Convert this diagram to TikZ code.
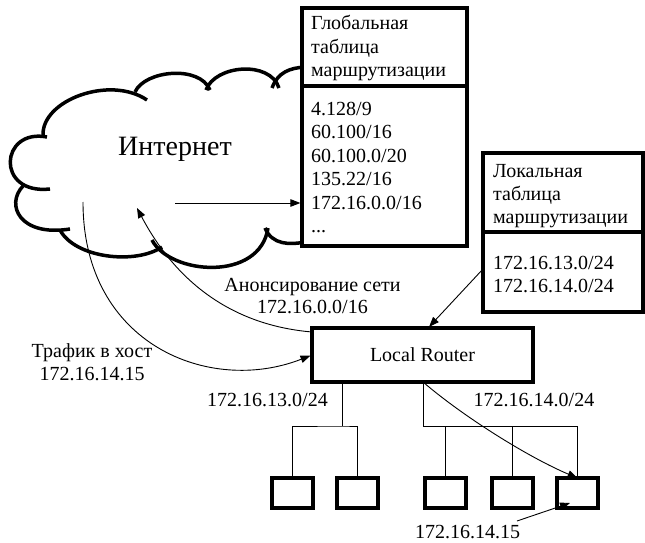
\documentclass[tikz,border=0pt]{standalone}
\usepackage{fontspec}
\setmainfont{Liberation Serif}
\usetikzlibrary{arrows.meta}
\begin{document}
\begin{tikzpicture}[x=1pt,y=-1pt,
  cloudline/.style={line width=3.5pt},
  box/.style={draw, line width=3.8pt, fill=white, inner sep=0pt, outer sep=0pt},
  txt/.style={font=\fontsize{20}{23.5}\selectfont, inner sep=0pt, anchor=base west},
  ctxt/.style={font=\fontsize{20}{23.5}\selectfont, inner sep=0pt, anchor=base},
  conn/.style={line width=0.9pt},
  arr/.style={conn, -{Triangle[length=10pt,width=7.5pt]}},
]
\useasboundingbox (0,0) rectangle (645,543);

% cloud
\draw[cloudline] (43,135) .. controls (42,100) and (110,75) .. (147,100);
\draw[cloudline] (47,137) .. controls (0,128) and (-5,195) .. (50,189);
\draw[cloudline] (23,186) .. controls (5,205) and (20,237) .. (70,229);
\draw[cloudline] (60,230) .. controls (75,258) and (135,265) .. (162,247);
\draw[cloudline] (152,240) .. controls (170,275) and (260,282) .. (268,228);
\draw[cloudline] (265,228) .. controls (272,245) and (290,245) .. (305,242);
\draw[cloudline] (135,92) .. controls (145,70) and (200,65) .. (210,90);
\draw[cloudline] (206,90) .. controls (215,65) and (270,60) .. (279,88);
\draw[cloudline] (272,88) .. controls (278,72) and (290,68) .. (305,67);
\node[font=\fontsize{28}{32}\selectfont, inner sep=0pt, anchor=base] (inet) at (175,155) {Интернет};

% global table
\node[box, anchor=north west, minimum width=165pt, minimum height=78pt] (ghead) at (302,8) {};
\node[box, anchor=north west, minimum width=165pt, minimum height=160pt] (gbody) at (302,86) {};
\node[txt] (g1) at (311,30) {Глобальная};
\node[txt] (g2) at (311,53.5) {таблица};
\node[txt] (g3) at (311,77) {маршрутизации};
\node[txt] (b1) at (311,115) {4.128/9};
\node[txt] (b2) at (311,138.5) {60.100/16};
\node[txt] (b3) at (311,162) {60.100.0/20};
\node[txt] (b4) at (311,185.5) {135.22/16};
\node[txt] (b5) at (311,209) {172.16.0.0/16};
\node[txt] (b6) at (311,232.5) {...};

% local table
\node[box, anchor=north west, minimum width=160pt, minimum height=79pt] (lhead) at (483,153) {};
\node[box, anchor=north west, minimum width=160pt, minimum height=80pt] (lbody) at (483,232) {};
\node[txt] (l1) at (493,177) {Локальная};
\node[txt] (l2) at (493,200) {таблица};
\node[txt] (l3) at (493,223) {маршрутизации};
\node[txt] (m1) at (493,269) {172.16.13.0/24};
\node[txt] (m2) at (493,292.5) {172.16.14.0/24};

% router and hosts
\node[box, anchor=north west, minimum width=221pt, minimum height=54pt,
      font=\fontsize{20}{23.5}\selectfont] (router) at (312,328) {Local Router};
\node[box, anchor=north west, minimum width=41pt, minimum height=30pt] (h1) at (272,478) {};
\node[box, anchor=north west, minimum width=41pt, minimum height=30pt] (h2) at (337,478) {};
\node[box, anchor=north west, minimum width=41pt, minimum height=30pt] (h3) at (425,478) {};
\node[box, anchor=north west, minimum width=41pt, minimum height=30pt] (h4) at (492,478) {};
\node[box, anchor=north west, minimum width=41pt, minimum height=30pt] (h5) at (557,478) {};

% tree
\coordinate (lj) at (342,426);
\coordinate (rj) at (423,426);
\draw[conn] (router.south -| lj) -- (lj);
\draw[conn] (h1.north) |- (lj) -| (h2.north);
\draw[conn] (router.south -| rj) -- (rj) -| (h5.north);
\draw[conn] (h3.north) -- (h3.north |- rj);
\draw[conn] (h4.north) -- (h4.north |- rj);

% labels
\node[ctxt] (an1) at (312.5,291) {Анонсирование сети};
\node[ctxt] (an2) at (312.5,313) {172.16.0.0/16};
\node[ctxt] (tr1) at (92,357) {Трафик в хост};
\node[ctxt] (tr2) at (92,380) {172.16.14.15};
\node[ctxt] (n13) at (267.5,406) {172.16.13.0/24};
\node[ctxt] (n14) at (534,406) {172.16.14.0/24};
\node[ctxt] (hst) at (467.5,538) {172.16.14.15};

% arrows
\coordinate (inetsrc) at (175,203);
\coordinate (inetdst) at (137,208);
\coordinate (trsrc) at (83,202);
\coordinate (p15) at (517,521);
\draw[arr, shorten >=1.6pt] (inetsrc) -- (inetsrc -| gbody.west);
\draw[arr] ([yshift=-4pt]router.north west) .. controls (230,325) and (175,280) .. (inetdst);
\draw[arr, shorten >=1.6pt] (trsrc) .. controls (83,345) and (210,395) .. (router.west);
\draw[arr, shorten >=1.6pt] ([yshift=-37pt]lbody.north west) -- ([xshift=5.5pt]router.north);
\draw[arr] ([xshift=0.5pt]router.south) .. controls (465,418) and (530,458) .. (h5.north);
\draw[arr] (p15) -- ([xshift=13pt,yshift=5pt]h5.south west);
\end{tikzpicture}
\end{document}
